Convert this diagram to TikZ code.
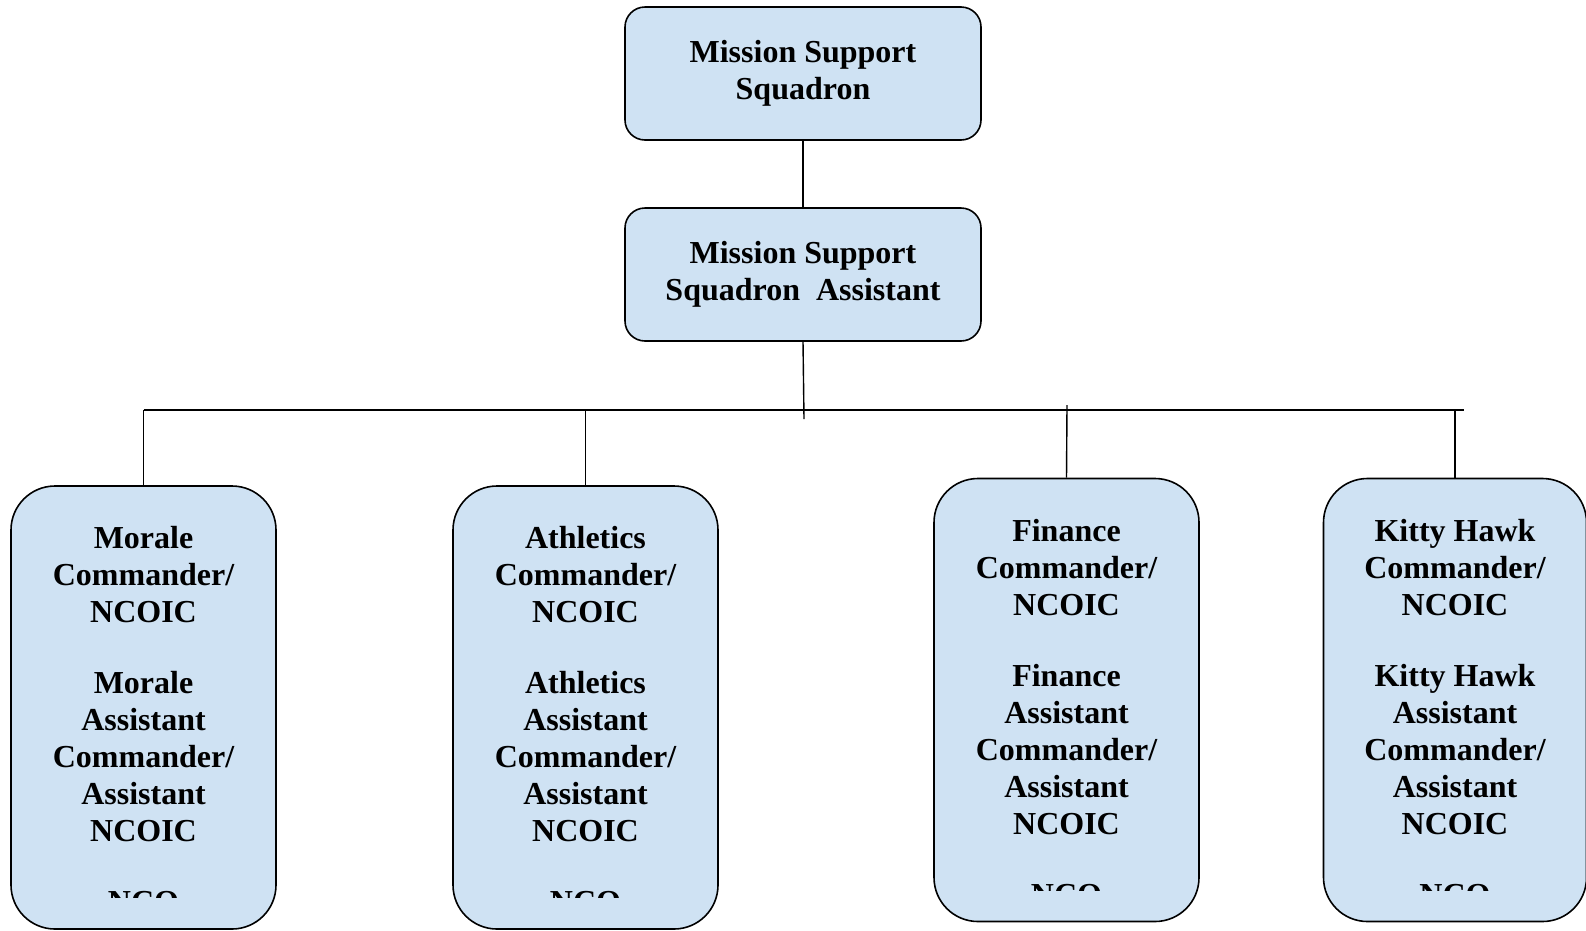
\documentclass[tikz,border=0pt]{standalone}
\usepackage{fontspec}
\setmainfont{Liberation Serif}
\usetikzlibrary{
	positioning
}
\definecolor{boxblue}{HTML}{CFE2F3}
\tikzset{
	link/.style={line width=1.4pt},
	headbox/.style={draw, line width=1.6pt, fill=boxblue, rounded corners=20pt, minimum width=356pt, minimum height=133pt, align=center, font=\bfseries\fontsize{32}{37}\selectfont},
	unitbox/.style={draw, line width=1.6pt, fill=boxblue, rounded corners=44pt, minimum width=265pt, minimum height=443pt},
	unittext/.style={inner sep=0pt, align=center, font=\bfseries\fontsize{32}{37}\selectfont}
}

\begin{document}
\begin{tikzpicture}[x=1pt, y=-1pt]
	\useasboundingbox (0,0) rectangle (1586,930);

	\node[headbox] (squadron) at (803,73.5) {\raisebox{-1pt}{\parbox{340pt}{\centering Mission Support\\Squadron}}};
	\node[headbox] (assistant) at (803,274.5) {\raisebox{-1pt}{\parbox{340pt}{\centering Mission Support\\Squadron\ \ Assistant}}};

	\node[unitbox] (morale) at (143.5,707.5) {};
	\node[unitbox] (athletics) at (585.5,707.5) {};
	\node[unitbox] (finance) at (1066.5,700) {};
	\node[unitbox, minimum width=263pt] (kitty) at (1455,700) {};

	% text is cut off above the bottom of each box
	\begin{scope}
		\clip (morale.north west) rectangle ([yshift=32pt]morale.south east);
		\node[unittext, below=41pt of morale.north] (moraletext) {Morale\\Commander/\\NCOIC\\[34pt]Morale\\Assistant\\Commander/\\Assistant\\NCOIC\\[34pt]NCO};
	\end{scope}
	\begin{scope}
		\clip (athletics.north west) rectangle ([yshift=32pt]athletics.south east);
		\node[unittext, below=41pt of athletics.north] (athleticstext) {Athletics\\Commander/\\NCOIC\\[34pt]Athletics\\Assistant\\Commander/\\Assistant\\NCOIC\\[34pt]NCO};
	\end{scope}
	\begin{scope}
		\clip (finance.north west) rectangle ([yshift=32pt]finance.south east);
		\node[unittext, below=41pt of finance.north] (financetext) {Finance\\Commander/\\NCOIC\\[34pt]Finance\\Assistant\\Commander/\\Assistant\\NCOIC\\[34pt]NCO};
	\end{scope}
	\begin{scope}
		\clip (kitty.north west) rectangle ([yshift=32pt]kitty.south east);
		\node[unittext, below=41pt of kitty.north] (kittytext) {Kitty Hawk\\Commander/\\NCOIC\\[34pt]Kitty Hawk\\Assistant\\Commander/\\Assistant\\NCOIC\\[34pt]NCO};
	\end{scope}

	\coordinate (bus) at (803,410);
	\coordinate (busend) at (804,419);
	\coordinate (busright) at (1464,410);
	\coordinate (financetop) at (1067,405);

	\draw[link] (squadron.south) -- (assistant.north);
	\draw[link] (assistant.south) -- (busend);
	\draw[link] (morale.north |- bus) -- (busright);
	\draw[link] (morale.north) -- (morale.north |- bus);
	\draw[link] (athletics.north) -- (athletics.north |- bus);
	\draw[link] (finance.north) -- (financetop);
	\draw[link] (kitty.north) -- (kitty.north |- bus);
\end{tikzpicture}
\end{document}
